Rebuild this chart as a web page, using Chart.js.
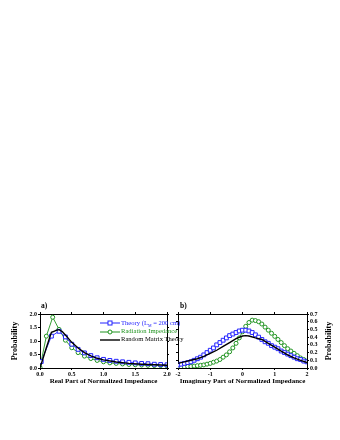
<!DOCTYPE html>
<html>
<head>
<meta charset="utf-8">
<script src="https://cdn.jsdelivr.net/npm/chart.js@4.4.0/dist/chart.umd.min.js"></script>
<style>
html, body { margin: 0; padding: 0; background: #fff; }
#wrap { position: relative; width: 340px; height: 440px; font-family: "Liberation Serif", "Times New Roman", serif; }
canvas { position: absolute; left: 0; top: 0; }
.panel { position: absolute; font-weight: bold; font-size: 7.5px; line-height: 8px; }
#legend { position: absolute; left: 100px; top: 319px; font-size: 6.6px; line-height: 8.2px; white-space: nowrap; }
#legend div { height: 8.2px; }
#legend svg { vertical-align: middle; margin-right: 1px; }
#rtitle { position: absolute; left: 328px; top: 341px; font-weight: bold; font-size: 8px;
  transform: translate(-50%, -50%) rotate(-90deg); white-space: nowrap; }
</style>
</head>
<body>
<div id="wrap">
  <canvas id="ca" width="340" height="440"></canvas>
  <canvas id="cb" width="340" height="440"></canvas>
  <div class="panel" style="left:41px;top:302px;">a)</div>
  <div class="panel" style="left:180px;top:302px;">b)</div>
  <div id="rtitle">Probability</div>
  <div id="legend">
    <div style="color:#2323ff"><svg width="20" height="6"><line x1="0" y1="3" x2="20" y2="3" stroke="#2323ff" stroke-width="1"/><rect x="8" y="1" width="4" height="4" fill="#fff" stroke="#2323ff" stroke-width="1"/></svg>Theory (L<sub style="font-size:4px">M</sub> = 200 cm)</div>
    <div style="color:#1f931f"><svg width="20" height="6"><line x1="0" y1="3" x2="20" y2="3" stroke="#1f931f" stroke-width="1"/><circle cx="10" cy="3" r="2" fill="#fff" stroke="#1f931f" stroke-width="1"/></svg>Radiation Impedance</div>
    <div style="color:#000"><svg width="20" height="6"><line x1="0" y1="3" x2="20" y2="3" stroke="#000" stroke-width="1.4"/></svg>Random Matrix Theory</div>
  </div>
</div>
<script>
// panel a) real part
const aTheoryX = [0.02, 0.18, 0.3, 0.4, 0.5, 0.6, 0.7, 0.8, 0.9, 1.0, 1.1, 1.2, 1.3, 1.4, 1.5, 1.6, 1.7, 1.8, 1.9, 2.0];
const aTheoryY = [0.24, 1.18, 1.36, 1.15, 0.88, 0.69, 0.56, 0.46, 0.38, 0.32, 0.28, 0.25, 0.23, 0.21, 0.19, 0.17, 0.16, 0.14, 0.13, 0.12];
const aRadX = [0.0, 0.1, 0.2, 0.3, 0.4, 0.5, 0.6, 0.7, 0.8, 0.9, 1.0, 1.1, 1.2, 1.3, 1.4, 1.5, 1.6, 1.7, 1.8, 1.9, 2.0];
const aRadY = [0.02, 1.18, 1.88, 1.43, 1.03, 0.75, 0.57, 0.44, 0.35, 0.28, 0.23, 0.19, 0.17, 0.15, 0.13, 0.12, 0.11, 0.1, 0.09, 0.09, 0.08];
const aRmtX = [0.0, 0.02, 0.1, 0.18, 0.22, 0.26, 0.3, 0.35, 0.4, 0.5, 0.6, 0.7, 0.8, 0.9, 1.0, 1.2, 1.4, 1.6, 1.8, 2.0];
const aRmtY = [0.0, 0.15, 0.75, 1.32, 1.36, 1.4, 1.42, 1.35, 1.22, 0.95, 0.74, 0.57, 0.45, 0.36, 0.3, 0.22, 0.17, 0.14, 0.12, 0.1];

// panel b) imaginary part
const bX = [-2.0, -1.9, -1.8, -1.7, -1.6, -1.5, -1.4, -1.3, -1.2, -1.1, -1.0, -0.9, -0.8, -0.7, -0.6, -0.5, -0.4, -0.3, -0.2, -0.1,
  0.0, 0.1, 0.2, 0.3, 0.4, 0.5, 0.6, 0.7, 0.8, 0.9, 1.0, 1.1, 1.2, 1.3, 1.4, 1.5, 1.6, 1.7, 1.8, 1.9, 2.0];
const bTheoryY = [0.04, 0.05, 0.06, 0.07, 0.08, 0.10, 0.12, 0.14, 0.17, 0.20, 0.23, 0.26, 0.30, 0.33, 0.36, 0.39, 0.42, 0.44, 0.46, 0.48,
  0.49, 0.49, 0.48, 0.46, 0.43, 0.40, 0.37, 0.34, 0.32, 0.29, 0.27, 0.25, 0.22, 0.20, 0.18, 0.16, 0.14, 0.12, 0.11, 0.09, 0.08];
const bRadY = [0.01, 0.01, 0.015, 0.02, 0.02, 0.025, 0.03, 0.035, 0.04, 0.05, 0.06, 0.075, 0.09, 0.11, 0.14, 0.17, 0.21, 0.26, 0.32, 0.39,
  0.47, 0.54, 0.59, 0.62, 0.615, 0.6, 0.57, 0.53, 0.49, 0.45, 0.41, 0.37, 0.33, 0.29, 0.25, 0.22, 0.19, 0.16, 0.13, 0.11, 0.09];
const bRmtX = [-2.0, -1.8, -1.6, -1.4, -1.2, -1.0, -0.8, -0.6, -0.4, -0.2, 0.0, 0.1, 0.2, 0.4, 0.6, 0.8, 1.0, 1.2, 1.4, 1.6, 1.8, 2.0];
const bRmtY = [0.06, 0.08, 0.1, 0.12, 0.15, 0.19, 0.23, 0.28, 0.33, 0.38, 0.415, 0.42, 0.415, 0.39, 0.37, 0.32, 0.27, 0.22, 0.17, 0.13, 0.1, 0.07];

const aTicks = [0.0, 0.5, 1.0, 1.5, 2.0];
const bXTicks = [-2, -1, 0, 1, 2];
const bYTicks = [0.0, 0.1, 0.2, 0.3, 0.4, 0.5, 0.6, 0.7];

const BLUE = '#2323ff';
const GREEN = '#1f931f';
const tickFont = { family: 'Liberation Serif', size: 6, weight: 'bold' };
const titleFont = { family: 'Liberation Serif', size: 7, weight: 'bold' };
const yTitleFont = { family: 'Liberation Serif', size: 8, weight: 'bold' };

function pts(xs, ys) {
  return xs.map((x, i) => ({ x: x, y: ys[i] }));
}

function series(rmt, rad, theory) {
  return [
    { data: rmt, showLine: true, borderColor: '#000', borderWidth: 1.4, pointRadius: 0, tension: 0 },
    { data: theory, showLine: true, borderColor: BLUE, borderWidth: 0.9, pointStyle: 'rect', pointRadius: 2.7,
      pointBorderColor: BLUE, pointBackgroundColor: '#fff', pointBorderWidth: 1 },
    { data: rad, showLine: true, borderColor: GREEN, borderWidth: 0.9, pointStyle: 'circle', pointRadius: 2,
      pointBorderColor: GREEN, pointBackgroundColor: '#fff', pointBorderWidth: 1 }
  ];
}

function axis(pos, min, max, ticks, opts) {
  const o = opts || {};
  return {
    type: 'linear', position: pos, min: min, max: max,
    afterBuildTicks: s => { s.ticks = ticks.map(v => ({ value: v })); },
    ticks: { display: !!o.labels, font: tickFont, color: '#000', padding: 1, maxRotation: 0, autoSkip: false,
      callback: o.fmt || (v => v) },
    grid: { drawOnChartArea: false, tickLength: 2, color: '#000', lineWidth: 1 },
    border: { color: '#000', width: 1 },
    title: o.title ? { display: true, text: o.title, font: o.tfont || titleFont, color: '#000', padding: o.tpad } : { display: false },
    afterFit: s => { if (s.isHorizontal()) s.height = o.size; else s.width = o.size; }
  };
}

const common = {
  animation: false, responsive: false, maintainAspectRatio: false,
  plugins: { legend: { display: false }, tooltip: { enabled: false } }
};

// plot areas: a) x 40..167, b) x 178..307, both y 314..368
new Chart(document.getElementById('ca'), {
  type: 'scatter',
  data: { datasets: series(pts(aRmtX, aRmtY), pts(aRadX, aRadY), pts(aTheoryX, aTheoryY)) },
  options: Object.assign({}, common, {
    layout: { padding: { left: 0, top: 314, right: 173, bottom: 54 } },
    scales: {
      x: axis('bottom', 0, 2, aTicks, { labels: true, fmt: v => v.toFixed(1), size: 18,
        title: 'Real Part of Normalized Impedance', tpad: { top: 0, bottom: 1 } }),
      xTop: axis('top', 0, 2, aTicks, { size: 0 }),
      y: axis('left', 0, 2, aTicks, { labels: true, fmt: v => v.toFixed(1), size: 40,
        title: 'Probability', tfont: yTitleFont, tpad: { top: 10, bottom: 0 } }),
      yRight: axis('right', 0, 2, aTicks, { size: 0 })
    }
  })
});

new Chart(document.getElementById('cb'), {
  type: 'scatter',
  data: { datasets: series(pts(bRmtX, bRmtY), pts(bX, bRadY), pts(bX, bTheoryY)) },
  options: Object.assign({}, common, {
    layout: { padding: { left: 178, top: 314, right: 0, bottom: 54 } },
    scales: {
      x: axis('bottom', -2, 2, bXTicks, { labels: true, size: 18,
        title: 'Imaginary Part of Normalized Impedance', tpad: { top: 0, bottom: 1 } }),
      xTop: axis('top', -2, 2, bXTicks, { size: 0 }),
      yLeft: axis('left', 0, 0.7, bYTicks, { size: 0 }),
      y: axis('right', 0, 0.7, bYTicks, { labels: true, fmt: v => v.toFixed(1), size: 33 })
    }
  })
});
</script>
</body>
</html>
